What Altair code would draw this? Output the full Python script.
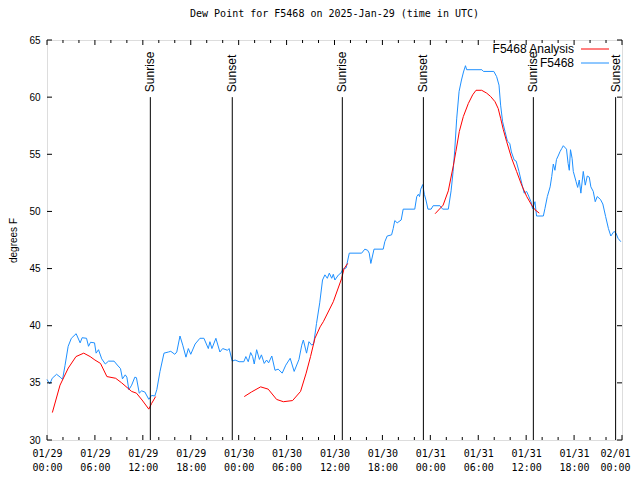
import altair as alt
import pandas as pd

# ---------------- data (hours since 2025-01-29 00:00 UTC) ----------------
obs_hours = [0.0, 0.35, 0.65, 1.2, 1.65, 1.95, 2.25, 2.65, 3.05, 3.65, 4.15, 4.4, 4.95, 5.2, 5.45,
             5.95, 6.15, 6.45, 6.85, 7.3, 7.7, 8.4, 8.8, 9.2, 9.45, 9.8, 10.0, 10.25, 10.6, 11.0,
             11.2, 11.55, 11.85, 12.25, 12.75, 13.1, 13.5, 13.75, 14.15, 14.65, 15.2, 15.5, 16.0,
             16.25, 16.65, 17.0, 17.4, 17.7, 18.0, 18.55, 19.15, 19.65, 20.2, 20.4, 20.65, 21.15,
             21.65, 22.0, 22.6, 22.8, 23.2, 23.55, 24.05, 24.65, 24.9, 25.2, 25.5, 25.75, 25.95,
             26.25, 26.6, 26.85, 27.2, 27.5, 27.75, 28.15, 28.55, 28.95, 29.45, 29.9, 30.45, 30.95,
             31.55, 31.9, 32.1, 32.5, 32.8, 33.15, 33.4, 33.75, 34.15, 34.5, 34.8, 35.1, 35.35,
             35.65, 35.85, 36.05, 36.5, 36.8, 37.05, 37.45, 37.85, 39.4, 39.8, 40.15, 40.35, 40.55,
             40.95, 42.1, 42.3, 42.6, 43.15, 43.35, 43.55, 43.85, 44.35, 44.6, 46.05, 46.3, 46.5,
             46.65, 46.8, 47.05, 47.25, 47.45, 47.7, 48.1, 48.35, 49.2, 49.55, 50.25, 50.6, 50.85,
             51.05, 51.3, 51.6, 51.9, 52.15, 52.4, 52.55, 54.45, 54.65, 55.95, 56.3, 56.6, 56.8,
             57.05, 57.35, 57.65, 57.95, 58.15, 58.5, 58.75, 59.1, 59.45, 59.75, 60.05, 60.25,
             60.6, 60.8, 61.1, 61.3, 62.15, 62.35, 62.65, 63.0, 63.2, 63.4, 63.6, 63.8, 64.0,
             64.25, 64.45, 64.65, 65.05, 65.25, 65.4, 65.55, 65.75, 65.9, 66.25, 66.45, 66.65,
             66.85, 67.15, 67.4, 67.65, 67.9, 68.1, 68.4, 68.65, 68.9, 69.3, 69.6, 69.95, 70.3,
             70.6, 71.0, 71.25, 71.5, 71.85]
obs_dewpoint = [35.3, 34.9, 35.4, 35.75, 35.5, 35.3, 36.5, 38.2, 38.9, 39.3, 38.5, 38.95, 38.9, 38.2,
                38.55, 38.5, 37.6, 37.9, 37.1, 36.65, 36.9, 36.9, 36.56, 36.25, 35.35, 35.7, 35.5,
                34.4, 34.8, 35.5, 35.45, 34.1, 34.3, 34.2, 33.56, 33.9, 33.85, 34.4, 36.0, 37.6,
                37.7, 37.76, 37.5, 37.7, 39.1, 38.3, 37.25, 38.0, 37.5, 38.4, 38.9, 38.9, 38.0,
                38.6, 38.0, 38.9, 37.7, 38.0, 37.85, 38.0, 36.9, 37.0, 36.85, 36.85, 37.3, 36.85,
                37.65, 37.3, 36.65, 37.9, 37.05, 37.45, 36.7, 37.0, 36.75, 37.35, 36.1, 36.2,
                35.85, 36.55, 37.15, 36.0, 37.05, 38.3, 38.75, 37.6, 38.6, 38.3, 38.46, 40.2,
                42.0, 44.0, 44.45, 44.15, 44.6, 44.15, 44.5, 44.0, 44.45, 44.6, 44.95, 45.05,
                46.35, 46.35, 46.7, 46.6, 46.35, 45.45, 46.7, 46.7, 47.35, 47.85, 47.95, 48.5,
                49.2, 49.0, 49.25, 50.2, 50.2, 51.3, 51.5, 51.3, 51.95, 52.35, 51.5, 51.0, 50.2,
                50.2, 50.5, 50.5, 50.2, 50.2, 51.8, 53.5, 55.3, 58.1, 60.5, 61.5, 62.2, 62.75,
                62.4, 62.4, 62.25, 62.25, 61.8, 61.05, 59.3, 57.85, 57.0, 56.15, 55.95, 55.2,
                54.5, 54.4, 53.5, 52.45, 51.6, 51.75, 51.45, 50.85, 50.25, 50.85, 49.6, 49.6,
                50.25, 51.3, 52.15, 53.05, 54.15, 53.6, 54.55, 54.85, 55.25, 55.5, 55.75, 55.45,
                54.2, 53.6, 55.4, 54.65, 53.5, 52.6, 52.1, 52.75, 51.6, 53.5, 52.3, 53.1, 53.0,
                52.15, 51.75, 50.85, 51.3, 51.05, 50.65, 49.55, 48.5, 47.85, 48.25, 48.1, 47.65,
                47.35]

ana_hours_1 = [0.67, 1.63, 2.67, 3.63, 4.6, 5.4, 6.0, 6.7, 7.5, 8.6, 9.35, 10.6, 11.2, 11.9,
               12.75, 13.1, 13.6]
ana_dewpoint_1 = [32.4, 34.8, 36.3, 37.3, 37.6, 37.3, 37.0, 36.7, 35.55, 35.4, 35.0, 34.25, 34.1,
                  33.5, 32.7, 33.2, 33.8]
ana_hours_2 = [24.7, 25.6, 26.75, 27.7, 28.75, 29.6, 30.75, 31.75, 32.45, 33.0, 33.55, 34.2,
               34.6, 35.85, 36.9, 37.2, 37.65]
ana_dewpoint_2 = [33.8, 34.2, 34.65, 34.45, 33.55, 33.35, 33.45, 34.25, 35.85, 37.3, 38.9, 39.9,
                  40.35, 42.1, 44.15, 45.0, 45.45]
ana_hours_3 = [48.6, 49.6, 50.25, 50.88, 51.2, 51.63, 52.13, 52.76, 53.3, 53.72, 54.43, 55.06,
               55.56, 56.1, 56.5, 56.8, 57.14, 57.56, 58.18, 58.8, 59.44, 60.07, 60.69, 61.1, 61.64]
ana_dewpoint_3 = [49.8, 50.55, 51.8, 54.0, 55.25, 57.0, 58.3, 59.45, 60.2, 60.6, 60.6, 60.35,
                  60.05, 59.6, 59.0, 58.15, 57.15, 56.1, 54.65, 53.5, 52.3, 51.3, 50.55, 50.15, 49.85]

event_hours = [12.94, 23.2, 36.98, 47.13, 60.9, 71.2]
event_names = ["Sunrise", "Sunset", "Sunrise", "Sunset", "Sunrise", "Sunset"]

series_names = ["F5468 Analysis", "F5468"]
series_colors = ["#ff0000", "#1e90ff"]

x_major_ticks = [0, 6, 12, 18, 24, 30, 36, 42, 48, 54, 60, 66, 72]
x_minor_ticks = [2, 4, 8, 10, 14, 16, 20, 22, 26, 28, 32, 34, 38, 40, 44, 46, 50, 52, 56, 58,
                 62, 64, 68, 70]
y_ticks = [30, 35, 40, 45, 50, 55, 60, 65]

START_MS = 1738108800000  # 2025-01-29T00:00:00Z

# ---------------- tables ----------------
rows = []
for h, v in zip(obs_hours, obs_dewpoint):
    rows.append({"hours": h, "dewpoint": v, "series": "F5468", "seg": "obs"})
for k, (hs, vs) in enumerate([(ana_hours_1, ana_dewpoint_1), (ana_hours_2, ana_dewpoint_2),
                              (ana_hours_3, ana_dewpoint_3)]):
    for h, v in zip(hs, vs):
        rows.append({"hours": h, "dewpoint": v, "series": "F5468 Analysis", "seg": f"a{k}"})
df = pd.DataFrame(rows)
events = pd.DataFrame({"hours": event_hours, "name": event_names})
majors = pd.DataFrame({"hours": x_major_ticks})
minors = pd.DataFrame({"hours": x_minor_ticks})
yt = pd.DataFrame({"dewpoint": y_ticks})

W, H = 575, 400
xs = alt.Scale(domain=[0, 72], nice=False, zero=False)
ys = alt.Scale(domain=[30, 65], nice=False, zero=False)

mono = "DejaVu Sans Mono"
sans = "Liberation Sans"

label_expr = (f"[utcFormat({START_MS} + datum.value*3600000, '%m/%d'), "
              f"utcFormat({START_MS} + datum.value*3600000, '%H:%M')]")

x_axis = alt.Axis(values=x_major_ticks, labelExpr=label_expr, ticks=False, domain=False,
                  grid=False, labelFont=mono, labelFontSize=10, labelPadding=8,
                  labelLineHeight=14, labelBaseline="top", labelAngle=0, labelFlush=False,
                  labelOverlap=False, labelColor="#000", title=None,
                  labelOffset={"condition": {"test": "datum.value >= 72", "value": -7},
                               "value": 0})
y_axis = alt.Axis(values=y_ticks, ticks=False, domain=False, grid=False, labelFont=sans,
                  labelFontSize=10, labelPadding=7, labelColor="#000", title="degrees F",
                  titleFont=sans, titleFontSize=10, titleFontWeight="normal", titleColor="#000",
                  titleX=-34, titleY=H / 2, titleAngle=270, titleAlign="center",
                  titleBaseline="middle")


def X(field="hours:Q"):
    return alt.X(field, scale=xs, axis=x_axis)


def Y(field="dewpoint:Q"):
    return alt.Y(field, scale=ys, axis=y_axis)


color_scale = alt.Scale(domain=series_names, range=series_colors)

lines = alt.Chart(df).mark_line(strokeWidth=1, interpolate="linear").encode(
    x=X(), y=Y(),
    color=alt.Color("series:N", scale=color_scale, legend=None),
    detail="seg:N",
    order="hours:Q",
)

# sunrise/sunset lines and labels
ev_rules = alt.Chart(events).mark_rule(color="#000", strokeWidth=1).encode(
    x=X(),
    y=alt.YDatum(30, scale=ys, axis=y_axis, type="quantitative"),
    y2=alt.Y2Datum(60),
)
ev_text = alt.Chart(events).mark_text(angle=270, align="left", baseline="middle", dx=5,
                                      font=sans, fontSize=12, color="#000").encode(
    x=X(),
    y=alt.YDatum(60, scale=ys, axis=y_axis, type="quantitative"),
    text="name:N",
)

# inward ticks on all four sides
tick_color = "#000"
bot_major = alt.Chart(majors).mark_rule(color=tick_color).encode(
    x=X(), y=alt.value(H), y2=alt.value(H - 5))
top_major = alt.Chart(majors).mark_rule(color=tick_color).encode(
    x=X(), y=alt.value(0), y2=alt.value(5))
bot_minor = alt.Chart(minors).mark_rule(color=tick_color).encode(
    x=X(), y=alt.value(H), y2=alt.value(H - 3))
top_minor = alt.Chart(minors).mark_rule(color=tick_color).encode(
    x=X(), y=alt.value(0), y2=alt.value(3))
left_t = alt.Chart(yt).mark_rule(color=tick_color).encode(
    y=Y(), x=alt.value(0), x2=alt.value(5))
right_t = alt.Chart(yt).mark_rule(color=tick_color).encode(
    y=Y(), x=alt.value(W), x2=alt.value(W - 5))

# key (gnuplot style: label then sample line)
one = pd.DataFrame({"k": [0]})
key_layers = []
for i, (nm, col) in enumerate(zip(series_names, series_colors)):
    ky = 9 + 14 * i
    key_layers.append(alt.Chart(one).mark_text(text=nm, align="right", baseline="middle",
                                               font=sans, fontSize=12, color="#000").encode(
        x=alt.value(527), y=alt.value(ky)))
    key_layers.append(alt.Chart(one).mark_rule(color=col, stroke=col, strokeWidth=1).encode(
        x=alt.value(534), x2=alt.value(562), y=alt.value(ky)))

chart = alt.layer(
    lines, ev_rules, ev_text, bot_major, top_major, bot_minor, top_minor, left_t, right_t,
    *key_layers
).properties(
    width=W, height=H,
    title=alt.TitleParams("Dew Point for F5468 on 2025-Jan-29 (time in UTC)", font=mono,
                          fontSize=10, fontWeight="normal", color="#000", anchor="middle",
                          baseline="middle", offset=11),
    autosize=alt.AutoSizeParams(type="none"),
    padding={"left": 39, "top": 32, "right": 10, "bottom": 32},
).configure_view(stroke="#000", strokeWidth=1).configure(background="white")

chart.save("out.html", embed_options={"renderer": "svg", "actions": False})
